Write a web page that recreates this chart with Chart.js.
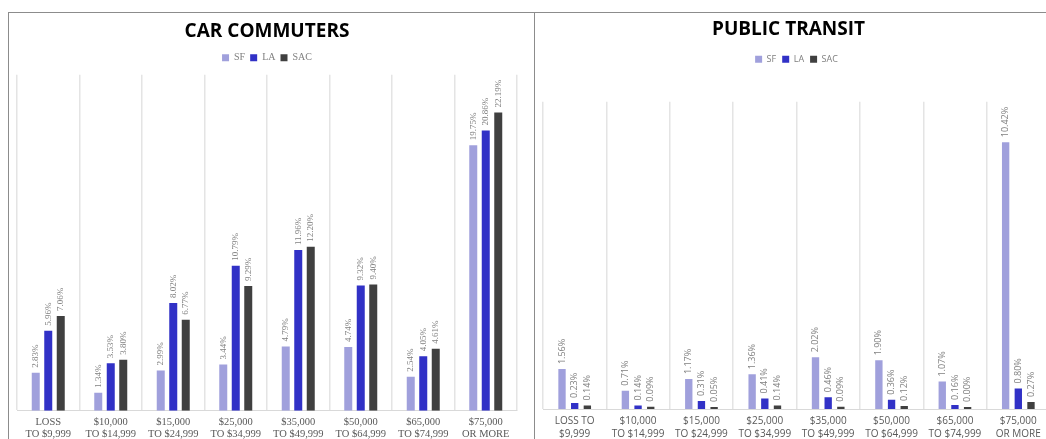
<!DOCTYPE html>
<html>
<head>
<meta charset="utf-8">
<script src="https://cdn.jsdelivr.net/npm/chart.js@4.4.0/dist/chart.umd.min.js"></script>
<style>
  html, body { margin: 0; padding: 0; background: #fff; overflow: hidden; width: 1046px; height: 439px; }
  .panel { position: absolute; top: 12px; height: 440px; box-sizing: border-box;
           border-top: 1px solid #8c8c8c; border-left: 1px solid #8c8c8c; overflow: hidden; }
  #carBox { left: 8px; width: 527px; }
  #transitBox { left: 534px; width: 530px; }
  canvas { position: absolute; left: 0; top: 0; }
</style>
</head>
<body>
<div class="panel" id="carBox"><canvas id="car" width="525" height="433"></canvas></div>
<div class="panel" id="transitBox"><canvas id="transit" width="520" height="433"></canvas></div>
<script>
// income brackets, two-line tick labels
const carLabels = [
  ['LOSS', 'TO $9,999'], ['$10,000', 'TO $14,999'], ['$15,000', 'TO $24,999'], ['$25,000', 'TO $34,999'],
  ['$35,000', 'TO $49,999'], ['$50,000', 'TO $64,999'], ['$65,000', 'TO $74,999'], ['$75,000', 'OR MORE'],
];
const transitLabels = [
  ['LOSS TO', '$9,999'], ['$10,000', 'TO $14,999'], ['$15,000', 'TO $24,999'], ['$25,000', 'TO $34,999'],
  ['$35,000', 'TO $49,999'], ['$50,000', 'TO $64,999'], ['$65,000', 'TO $74,999'], ['$75,000', 'OR MORE'],
];

// share of commuters (%)
const carSF  = [2.83, 1.34, 2.99, 3.44, 4.79, 4.74, 2.54, 19.75];
const carLA  = [5.96, 3.53, 8.02, 10.79, 11.96, 9.32, 4.05, 20.86];
const carSAC = [7.06, 3.80, 6.77, 9.29, 12.20, 9.40, 4.61, 22.19];

const transitSF  = [1.56, 0.71, 1.17, 1.36, 2.02, 1.90, 1.07, 10.42];
const transitLA  = [0.23, 0.14, 0.31, 0.41, 0.46, 0.36, 0.16, 0.80];
const transitSAC = [0.14, 0.09, 0.05, 0.14, 0.09, 0.12, 0.00, 0.27];

const SF_COLOR = '#a0a0dc';
const LA_COLOR = '#3131c6';
const SAC_COLOR = '#404040';
const GRID = '#e4e4e4';
const SERIF = "'Liberation Serif', 'DejaVu Serif', serif";
const SANS = "'Open Sans', 'Liberation Sans', sans-serif";

// rotated value labels above each bar
const barLabels = {
  id: 'barLabels',
  afterDatasetsDraw(chart, args, opts) {
    const ctx = chart.ctx;
    ctx.save();
    ctx.font = opts.font;
    ctx.fillStyle = opts.color;
    ctx.textAlign = 'left';
    ctx.textBaseline = 'middle';
    chart.data.datasets.forEach((ds, i) => {
      chart.getDatasetMeta(i).data.forEach((bar, j) => {
        ctx.save();
        ctx.translate(bar.x, bar.y - 5);
        ctx.rotate(-Math.PI / 2);
        ctx.fillText(ds.data[j].toFixed(2) + '%', 0, 0);
        ctx.restore();
      });
    });
    ctx.restore();
  },
};

// fixed legend block height so the plot top lines up; optional title nudge
const legendHeight = {
  id: 'legendHeight',
  beforeInit(chart, args, opts) {
    const fit = chart.legend.fit;
    chart.legend.fit = function () {
      fit.bind(chart.legend)();
      this.height = opts.height;
    };
  },
  afterLayout(chart, args, opts) {
    const t = chart.titleBlock;
    if (t && opts.titleShift) { t.left += opts.titleShift * 2; }
  },
};

function makeChart(id, cfg) {
  return new Chart(document.getElementById(id), {
    type: 'bar',
    data: {
      labels: cfg.labels,
      datasets: [
        { label: 'SF', data: cfg.sf, backgroundColor: SF_COLOR, minBarLength: cfg.minBar },
        { label: 'LA', data: cfg.la, backgroundColor: LA_COLOR, minBarLength: cfg.minBar },
        { label: 'SAC', data: cfg.sac, backgroundColor: SAC_COLOR, minBarLength: cfg.minBar },
      ],
    },
    options: {
      responsive: false,
      animation: false,
      categoryPercentage: 0.6,
      barPercentage: cfg.barPct,
      layout: { padding: cfg.padding },
      plugins: {
        title: {
          display: true,
          text: cfg.title,
          color: '#000',
          font: { family: SANS, weight: 'bold', size: 19 },
          padding: cfg.titlePad,
        },
        legend: {
          labels: {
            boxWidth: 7, boxHeight: 7, padding: cfg.legendPad,
            color: '#7f7f7f',
            font: { family: cfg.font, size: cfg.legendSize },
          },
        },
        tooltip: { enabled: false },
        barLabels: { font: cfg.valueFont, color: '#808080' },
        legendHeight: { height: cfg.legendH, titleShift: cfg.titleShift || 0 },
      },
      scales: {
        x: {
          grid: { color: GRID, lineWidth: 1.5, drawTicks: false },
          border: { color: '#d9d9d9', width: 1 },
          ticks: {
            color: '#595959', padding: cfg.tickPad, maxRotation: 0, autoSkip: false,
            font: { family: cfg.font, size: cfg.tickSize, lineHeight: cfg.tickLine },
          },
        },
        y: { display: false, min: 0, max: cfg.max },
      },
    },
    plugins: [barLabels, legendHeight],
  });
}

makeChart('car', {
  labels: carLabels, sf: carSF, la: carLA, sac: carSAC,
  title: 'CAR COMMUTERS', max: 25, minBar: 0, barPct: 0.64,
  font: SERIF, legendSize: 10, legendPad: 5, tickSize: 10.5, tickPad: 5, tickLine: 1.2,
  valueFont: "9px " + SERIF,
  padding: { left: 8, right: 17, top: 0, bottom: 0 },
  titlePad: { top: 7, bottom: 5 }, legendH: 27,
});

makeChart('transit', {
  labels: transitLabels, sf: transitSF, la: transitLA, sac: transitSAC,
  title: 'PUBLIC TRANSIT', max: 12, minBar: 2, barPct: 0.58,
  font: SANS, legendSize: 9, legendPad: 6, tickSize: 10, tickPad: 6, tickLine: 1.25,
  valueFont: "9px " + SANS,
  padding: { left: 8, right: 5, top: 0, bottom: 0 },
  titlePad: { top: 5, bottom: 8 }, legendH: 53, titleShift: -8,
});
</script>
</body>
</html>
